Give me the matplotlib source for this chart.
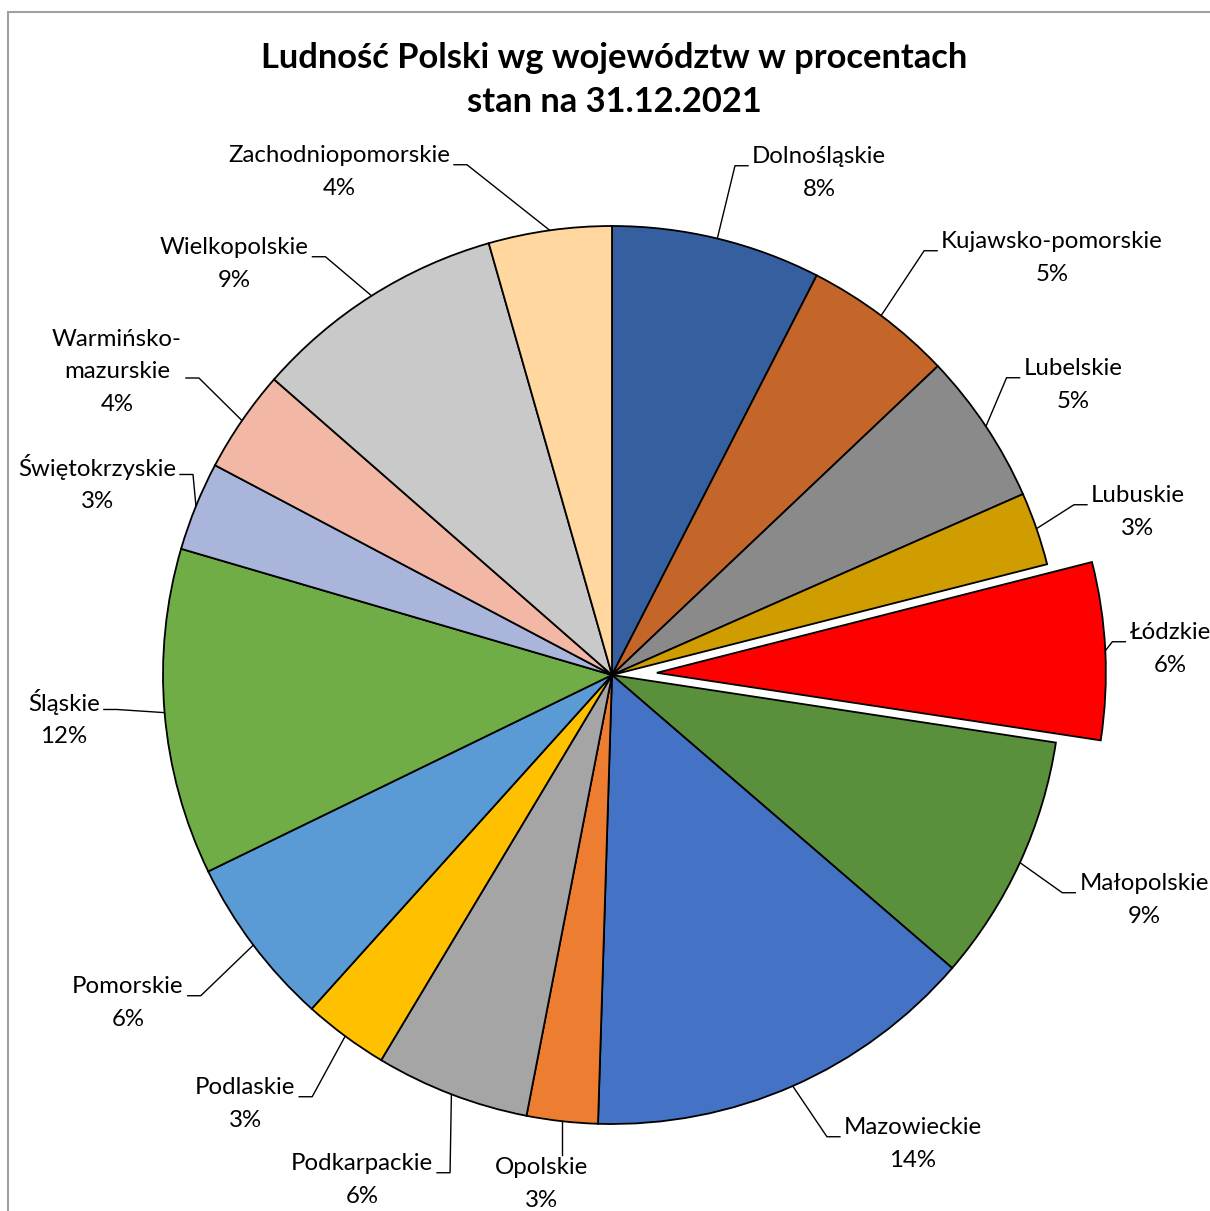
import numpy as np
import matplotlib.pyplot as plt
from matplotlib.patches import Rectangle

plt.rcParams['font.family'] = ['Lato', 'DejaVu Sans']

W, H = 1210, 1211

# dane: ludność wg województw, stan na 31.12.2021 (tys. osób)
wojewodztwa = ['Dolnośląskie', 'Kujawsko-pomorskie', 'Lubelskie', 'Lubuskie', 'Łódzkie',
               'Małopolskie', 'Mazowieckie', 'Opolskie', 'Podkarpackie', 'Podlaskie',
               'Pomorskie', 'Śląskie', 'Świętokrzyskie', 'Warmińsko-\nmazurskie',
               'Wielkopolskie', 'Zachodniopomorskie']
ludnosc = [2883, 2062, 2095, 1007, 2438, 3410, 5425, 977, 2121, 1173,
           2347, 4492, 1225, 1416, 3496, 1693]

kolory = ['#365FA0', '#C4652A', '#8A8A8A', '#CF9D00', '#FF0000',
          '#5A8F3B', '#4472C4', '#ED7D31', '#A5A5A5', '#FFC000',
          '#5B9BD5', '#70AD47', '#A9B5DB', '#F3B8A5', '#C9C9C9', '#FFD79F']
wysuniecie = [0, 0, 0, 0, 0.1, 0, 0, 0, 0, 0, 0, 0, 0, 0, 0, 0]

# srodki etykiet (piksele, od lewego gornego rogu)
etykiety_xy = [(819, 173), (1052, 258), (1073, 385), (1138, 512), (1170, 649),
               (1144, 900), (913, 1144), (541, 1184), (362, 1180), (245, 1104),
               (128, 1003), (64, 718), (97, 483), (117, 372), (234, 264), (339, 172)]

cx, cy, R = 612, H - 675, 449

fig = plt.figure(figsize=(W / 100, H / 100), dpi=100)
ax = fig.add_axes([0, 0, 1, 1])

wedges, _ = ax.pie(ludnosc, explode=[e * R for e in wysuniecie], colors=kolory,
                   startangle=90, counterclock=False, radius=R, center=(cx, cy),
                   wedgeprops=dict(edgecolor='black', linewidth=1.3), frame=False)
ax.set_xlim(0, W)
ax.set_ylim(0, H)
ax.axis('off')

# ramka wykresu (przycieta)
ax.add_patch(Rectangle((8, -50), W + 50, H - 12 + 50, fill=False,
                       edgecolor='#A0A0A0', linewidth=1.5, clip_on=False))

suma = sum(ludnosc)
teksty = []
for nazwa, v, (lx, ly) in zip(wojewodztwa, ludnosc, etykiety_xy):
    t = ax.text(lx, H - ly, '%s\n%d%%' % (nazwa, round(100 * v / suma)),
                ha='center', va='center', fontsize=17.3, linespacing=1.65)
    teksty.append(t)

fig.canvas.draw()
inv = ax.transData.inverted()
for w, t in zip(wedges, teksty):
    ang = np.deg2rad((w.theta1 + w.theta2) / 2)
    sx = w.center[0] + w.r * np.cos(ang)
    sy = w.center[1] + w.r * np.sin(ang)
    bb = t.get_window_extent().transformed(inv)
    n = t.get_text().count('\n') + 1
    lh = bb.height / n
    if bb.x0 < sx < bb.x1:
        ax.plot([sx, sx], [sy, bb.y1 + 2], color='black', lw=1)
        continue
    ay = bb.y0 + 1.5 * lh - 6
    if bb.x0 > sx:
        ex = bb.x0 - 4
        kx = ex - 13
    else:
        ex = bb.x1 + 4
        kx = ex + 13
    ax.plot([sx, kx, ex], [sy, ay, ay], color='black', lw=1)

fig.text(614 / W, 1 - 80 / H, 'Ludność Polski wg województw w procentach\nstan na 31.12.2021',
         ha='center', va='center', fontsize=24.8, fontweight='bold', linespacing=1.5)

fig.savefig('out.png', dpi=100)
